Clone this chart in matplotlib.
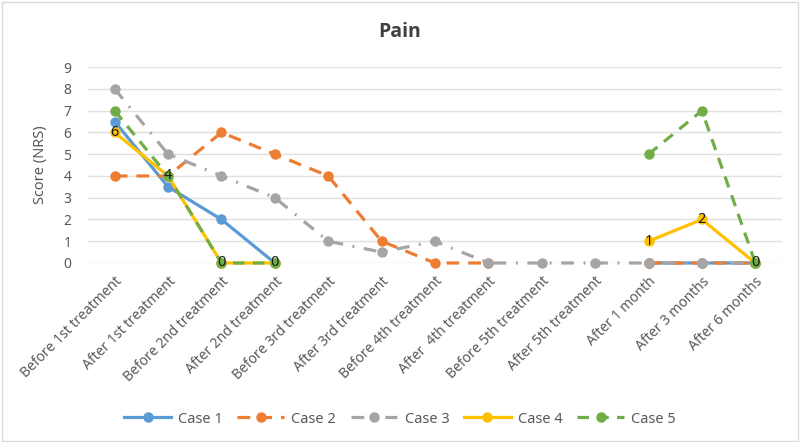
import numpy as np
import matplotlib
matplotlib.use("Agg")
import matplotlib.pyplot as plt
from matplotlib.patches import Rectangle

plt.rcParams['font.family'] = ['Noto Sans', 'DejaVu Sans']

categories = ["Before 1st treatment", "After 1st treatment", "Before 2nd treatment",
              "After 2nd treatment", "Before 3rd treatment", "After 3rd treatment",
              "Before 4th treatment", "After  4th treatment", "Before 5th treatment",
              "After 5th treatment", "After 1 month", "After 3 months", "After 6 months"]
nan = np.nan
case1 = [6.5, 3.5, 2, 0, nan, nan, nan, nan, nan, nan, 0, 0, 0]
case2 = [4, 4, 6, 5, 4, 1, 0, 0, nan, nan, 0, 0, 0]
case3 = [8, 5, 4, 3, 1, 0.5, 1, 0, 0, 0, 0, 0, 0]
case4 = [6, 4, 0, 0, nan, nan, nan, nan, nan, nan, 1, 2, 0]
case5 = [7, 4, 0, 0, nan, nan, nan, nan, nan, nan, 5, 7, 0]
labels4 = ["6", "4", "0", "0", "", "", "", "", "", "", "1", "2", "0"]
series_names = ["Case 1", "Case 2", "Case 3", "Case 4", "Case 5"]
yticks = list(range(0, 10))

fig = plt.figure(figsize=(8, 4.42), dpi=100)
ax = fig.add_axes([0.11, 0.405, 0.8675, 0.443])
x = np.arange(len(categories))

colors = ["#5B9BD5", "#ED7D31", "#A5A5A5", "#FFC000", "#70AD47"]
lw = 2.3
styles = [
    dict(linestyle='-'),
    dict(dashes=(4, 2.8)),
    dict(dashes=(4, 3, 0.6, 3)),
    dict(linestyle='-'),
    dict(dashes=(3.6, 2.6)),
]
data = [case1, case2, case3, case4, case5]
handles = []
for i, (d, c, st, nm) in enumerate(zip(data, colors, styles, series_names)):
    ln, = ax.plot(x, d, color=c, lw=lw, marker='o', markersize=6.5,
                  markeredgecolor=c, markerfacecolor=c, label=nm,
                  clip_on=False, zorder=3 + i, **st)
    handles.append(ln)

for xi, v, t in zip(x, case4, labels4):
    if t:
        ax.text(xi, v, t, ha='center', va='center', fontsize=10.5,
                color='#1a1a1a', zorder=20)

ax.set_xlim(-0.5, len(categories) - 0.5)
ax.set_ylim(0, 9)
ax.set_yticks(yticks)
ax.set_yticklabels([str(t) for t in yticks])
ax.set_xticks(x)
ax.set_xticklabels(categories, rotation=45, ha='right', va='top',
                   rotation_mode='anchor')
ax.tick_params(axis='both', length=0, labelsize=10, labelcolor='#595959')
ax.tick_params(axis='y', pad=12)
ax.tick_params(axis='x', pad=8)
ax.grid(axis='y', color='#E0E0E0', lw=1)
ax.set_axisbelow(True)
for s in ax.spines.values():
    s.set_visible(False)

ax.set_ylabel("Score (NRS)", fontsize=10.5, color='#595959', labelpad=11)
fig.text(0.5, 0.928, "Pain", ha='center', va='center', fontsize=14,
         fontweight='bold', color='#404040', family=['Open Sans', 'DejaVu Sans'])

fig.legend(handles=handles, loc='center', bbox_to_anchor=(0.5, 0.052),
           ncol=5, frameon=False, fontsize=10.5, handlelength=3.2,
           handletextpad=0.5, columnspacing=1.0, labelcolor='#595959')

fig.patches.append(Rectangle((0.002, 0.003), 0.995, 0.993, transform=fig.transFigure,
                             fill=False, edgecolor='#D9D9D9', lw=1))

fig.savefig("out.png", dpi=100)
